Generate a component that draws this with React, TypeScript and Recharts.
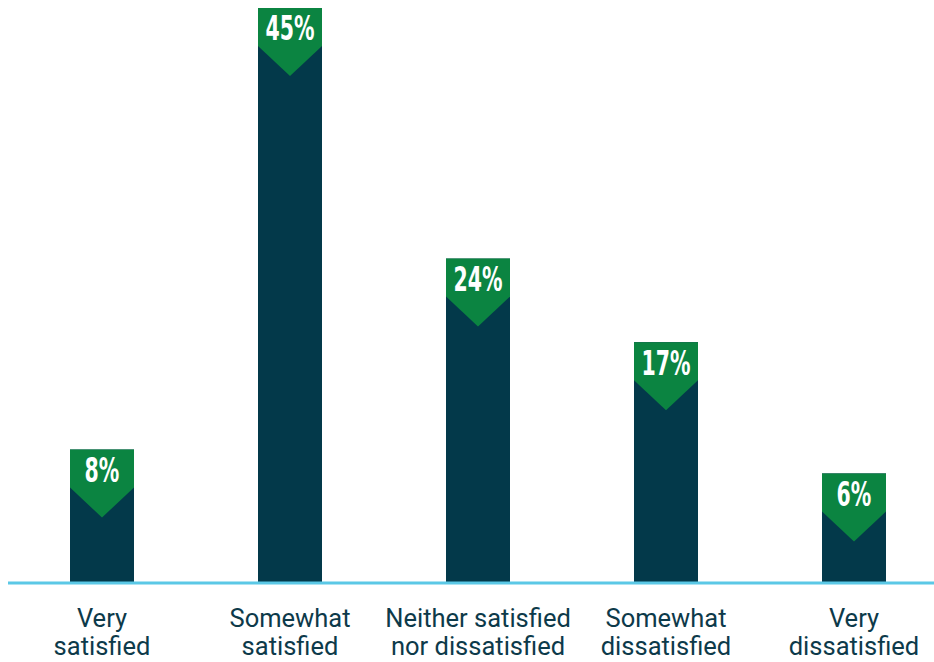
import React from "react";
import { BarChart, Bar, XAxis, YAxis } from "recharts";

const categories: string[][] = [
  ["Very", "satisfied"],
  ["Somewhat", "satisfied"],
  ["Neither satisfied", "nor dissatisfied"],
  ["Somewhat", "dissatisfied"],
  ["Very", "dissatisfied"],
];
const values: number[] = [8, 45, 24, 17, 6];
const valueLabels: string[] = ["8%", "45%", "24%", "17%", "6%"];

const data = categories.map((c, i) => ({ key: c.join(" "), value: values[i], label: valueLabels[i] }));

const NAVY = "#03394a";
const GREEN = "#0b8441";
const EXT = 38;
const BOX = 38;
const TIP = 30;

const BarShape = (props: any) => {
  const { x, y, width, height, payload } = props;
  const top = y - EXT;
  const cx = x + width / 2;
  const cy = top + 21;
  return (
    <g>
      <rect x={x} y={top} width={width} height={height + EXT} fill={NAVY} />
      <polygon
        points={`${x},${top} ${x + width},${top} ${x + width},${top + BOX} ${cx},${top + BOX + TIP} ${x},${top + BOX}`}
        fill={GREEN}
      />
      <g transform={`translate(${cx},${cy}) scale(0.64,1.05)`}>
        <text
          x={0}
          y={0}
          textAnchor="middle"
          dominantBaseline="central"
          fill="#ffffff"
          fontFamily="'DejaVu Sans', sans-serif"
          fontWeight="bold"
          fontSize={32}
        >
          {payload.label}
        </text>
      </g>
    </g>
  );
};

const Tick = (props: any) => {
  const { x, y, payload } = props;
  const lines = categories[payload.index] || [];
  return (
    <text
      x={x}
      y={y}
      textAnchor="middle"
      fill="#0d3a4a"
      fontFamily="Roboto, 'Noto Sans', sans-serif"
      fontSize={25.5}
    >
      {lines.map((l, i) => (
        <tspan key={i} x={x} y={y + 36 + i * 28}>
          {l}
        </tspan>
      ))}
    </text>
  );
};

export default function App() {
  return (
    <div style={{ width: 934, height: 662, overflow: "hidden", background: "#ffffff" }}>
      <style>{`html, body { margin: 0; padding: 0; overflow: hidden; }`}</style>
      <BarChart
        width={934}
        height={662}
        data={data}
        margin={{ top: 46, right: 0, left: 8, bottom: 0 }}
        barCategoryGap={0}
      >
        <XAxis
          dataKey="key"
          axisLine={{ stroke: "#5bc8e6", strokeWidth: 3 }}
          tickLine={false}
          height={79}
          interval={0}
          padding={{ left: 0, right: -14 }}
          tick={<Tick />}
        />
        <YAxis hide domain={[0, 45]} />
        <Bar dataKey="value" barSize={64} shape={<BarShape />} isAnimationActive={false} />
      </BarChart>
    </div>
  );
}
